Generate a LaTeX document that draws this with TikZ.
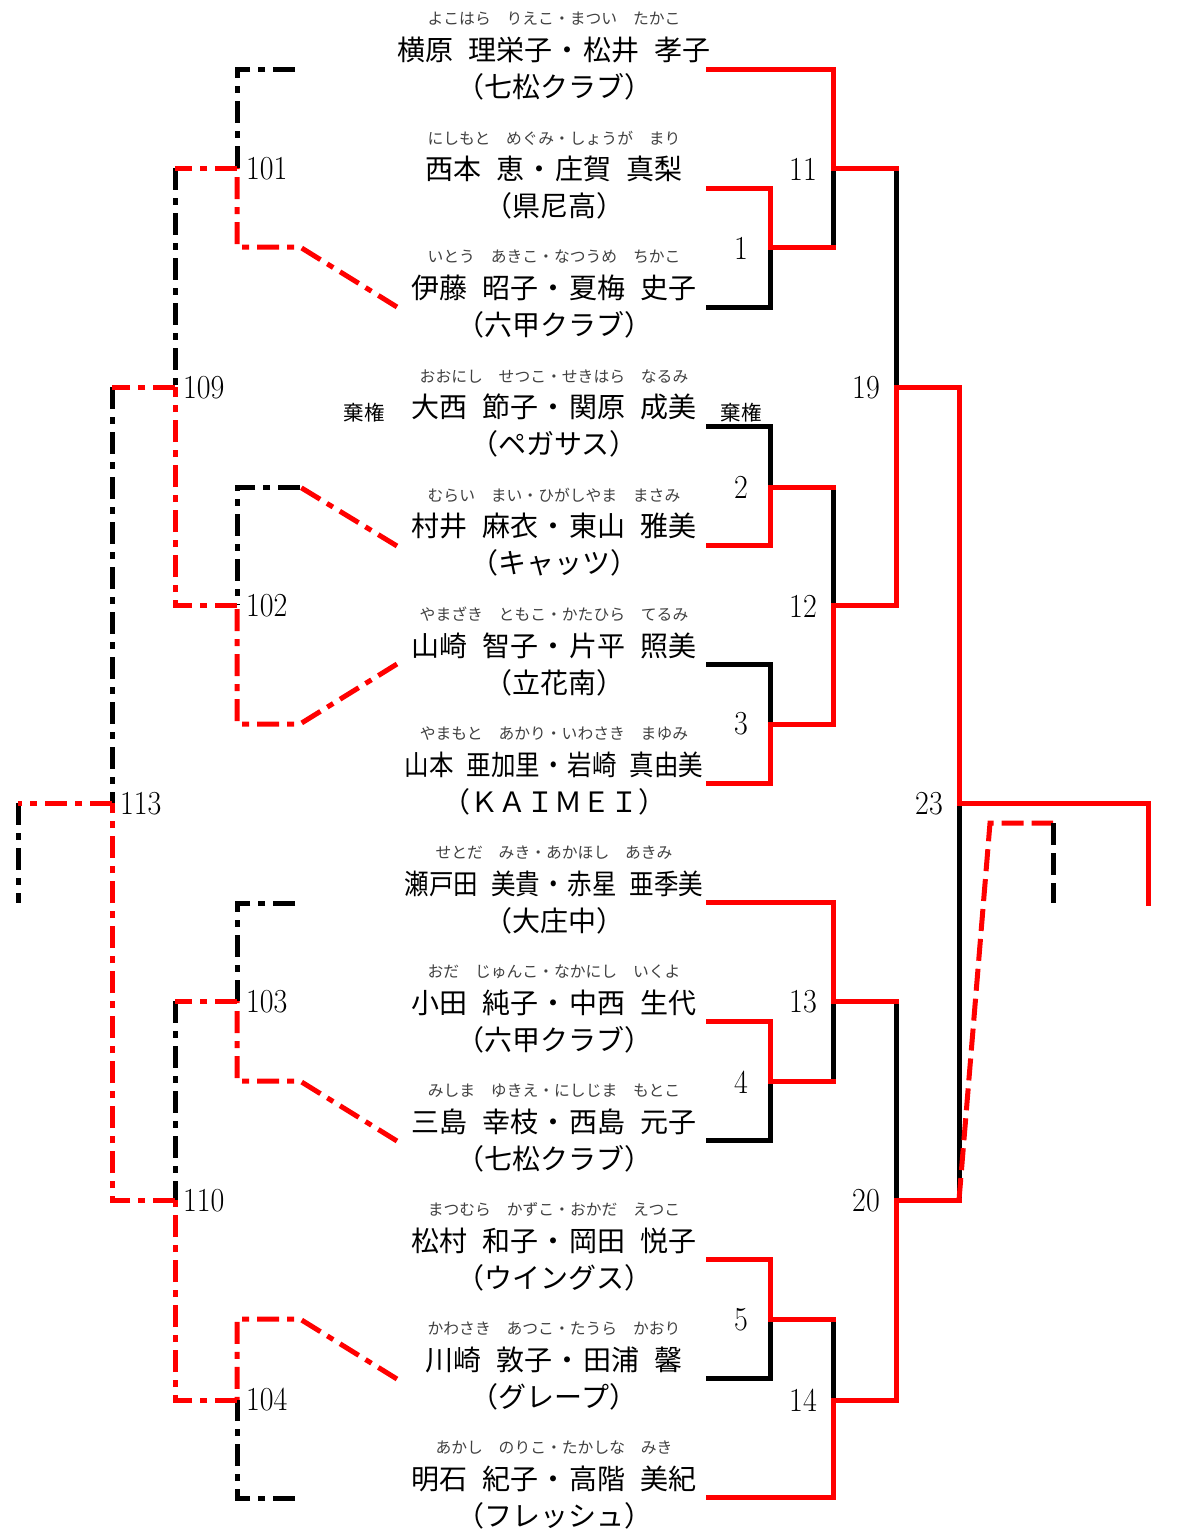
\documentclass[tikz,border=0pt]{standalone}
\usepackage{fontspec}
\usepackage{graphicx}
\newfontfamily\jp{Noto Sans CJK JP}
\newcommand\gp{\hspace{15pt}}
\newcommand\dt{\hspace{1.5pt}・\hspace{1.5pt}}
\tikzset{
  win/.style={draw=red, line width=5pt, line cap=rect},
  lose/.style={draw=black, line width=5pt, line cap=rect},
  wdd/.style={draw=red, line width=5pt, dash pattern=on 22pt off 8pt on 7pt off 8pt},
  ldd/.style={draw=black, line width=5pt, dash pattern=on 22pt off 8pt on 7pt off 8pt},
  wdash/.style={draw=red, line width=5pt, dash pattern=on 22pt off 8pt},
  ldash/.style={draw=black, line width=5pt, dash pattern=on 22pt off 8pt},
  furi/.style={font=\jp\fontsize{15.8}{15.8}\selectfont, text=black!75, inner sep=0pt},
  nm/.style={font=\jp\fontsize{28}{28}\selectfont, inner sep=0pt},
  num/.style={font=\fontsize{30}{30}\selectfont, inner sep=0pt},
  kiken/.style={font=\jp\fontsize{20.5}{20.5}\selectfont, inner sep=0pt},
}
\newcommand\player[4]{%
  \path (554,{50+119.08*(#1-1)}) node[nm] (n#1) {#3}
    ++(0,-31) node[furi] (f#1) {#2}
    ++(0,68) node[nm] (c#1) {#4};
  \coordinate (eR#1) at (708,{69+119.08*(#1-1)});
}
\newcommand\numlab[3]{\node[num] (#1) at (#2) {\scalebox{1}[1.12]{#3}};}
\newcommand\numlabw[3]{\node[num, anchor=west] (#1) at (#2) {\scalebox{1}[1.12]{#3}};}
\begin{document}
\begin{tikzpicture}[x=1pt, y=-1pt]
\useasboundingbox (0,0) rectangle (1176,1531);

% ---------- entries ----------
\player{1}{よこはら　りえこ・まつい　たかこ}{横原\gp 理栄子\dt 松井\gp 孝子}{（七松クラブ）}
\player{2}{にしもと　めぐみ・しょうが　まり}{西本\gp 恵\dt 庄賀\gp 真梨}{（県尼高）}
\player{3}{いとう　あきこ・なつうめ　ちかこ}{伊藤\gp 昭子\dt 夏梅\gp 史子}{（六甲クラブ）}
\player{4}{おおにし　せつこ・せきはら　なるみ}{大西\gp 節子\dt 関原\gp 成美}{（ペガサス）}
\player{5}{むらい　まい・ひがしやま　まさみ}{村井\gp 麻衣\dt 東山\gp 雅美}{（キャッツ）}
\player{6}{やまざき　ともこ・かたひら　てるみ}{山崎\gp 智子\dt 片平\gp 照美}{（立花南）}
\player{7}{やまもと　あかり・いわさき　まゆみ}{\scalebox{0.875}[1]{山本\gp 亜加里\dt 岩崎\gp 真由美}}{（ＫＡＩＭＥＩ）}
\player{8}{せとだ　みき・あかほし　あきみ}{\scalebox{0.875}[1]{瀬戸田\gp 美貴\dt 赤星\gp 亜季美}}{（大庄中）}
\player{9}{おだ　じゅんこ・なかにし　いくよ}{小田\gp 純子\dt 中西\gp 生代}{（六甲クラブ）}
\player{10}{みしま　ゆきえ・にしじま　もとこ}{三島\gp 幸枝\dt 西島\gp 元子}{（七松クラブ）}
\player{11}{まつむら　かずこ・おかだ　えつこ}{松村\gp 和子\dt 岡田\gp 悦子}{（ウイングス）}
\player{12}{かわさき　あつこ・たうら　かおり}{川崎\gp 敦子\dt 田浦\gp 馨}{（グレープ）}
\player{13}{あかし　のりこ・たかしな　みき}{明石\gp 紀子\dt 高階\gp 美紀}{（フレッシュ）}

\node[kiken] (kL) at (364,413) {棄権};
\node[kiken] (kR) at (741,413) {棄権};

% ---------- right bracket coordinates ----------
\coordinate (m1) at (770,247);
\coordinate (m2) at (770,487);
\coordinate (m3) at (770,724);
\coordinate (m4) at (770,1081);
\coordinate (m5) at (770,1319);
\coordinate (m11) at (833,168);
\coordinate (m12) at (833,605);
\coordinate (m13) at (833,1001);
\coordinate (m14) at (833,1400);
\coordinate (m19) at (896,387);
\coordinate (m20) at (896,1200);
\coordinate (m23) at (959,803);
\coordinate (fR) at (1148,903);
\coordinate (dA) at (990,823);
\coordinate (dB) at (1053,823);
\coordinate (dC) at (1053,903);

% ---------- right bracket lines ----------
\draw[win] (eR1) -| (m11);
\draw[win] (eR2) -| (m1);
\draw[lose] (eR3) -| (m1);
\draw[lose] (m1 -| m11) -- (m11);
\draw[win] (m1) -- (m1 -| m11);

\draw[lose] (eR4) -| (m2);
\draw[win] (eR5) -| (m2);
\draw[lose] (eR6) -| (m3);
\draw[win] (eR7) -| (m3);
\draw[lose] (m2 -| m12) -- (m12);
\draw[win] (m2) -- (m2 -| m12);
\draw[win] (m3) -| (m12);

\draw[lose] (m11 -| m19) -- (m19);
\draw[win] (m11) -- (m11 -| m19);
\draw[win] (m12) -| (m19);

\draw[win] (eR8) -| (m13);
\draw[win] (eR9) -| (m4);
\draw[lose] (eR10) -| (m4);
\draw[lose] (m4 -| m13) -- (m13);
\draw[win] (m4) -- (m4 -| m13);

\draw[win] (eR11) -| (m5);
\draw[lose] (eR12) -| (m5);
\draw[lose] (m5 -| m14) -- (m14);
\draw[win] (m5) -- (m5 -| m14);
\draw[win] (eR13) -| (m14);

\draw[lose] (m13 -| m20) -- (m20);
\draw[win] (m13) -- (m13 -| m20);
\draw[win] (m14) -| (m20);

\draw[win] (m19) -| (m23);
\draw[lose] (m20 -| m23) -- (m23);
\draw[win] (m20) -- (m20 -| m23);
\draw[win] (m23) -| (fR);

\draw[wdash] (m20 -| m23) -- (dA) -- (dB);
\draw[ldash] (dB) -- (dC);

% ---------- right labels ----------
\numlab{r1}{741,248}{1}
\numlab{r2}{741,487}{2}
\numlab{r3}{741,724}{3}
\numlab{r4}{741,1082}{4}
\numlab{r5}{741,1320}{5}
\numlab{r11}{803,169}{11}
\numlab{r12}{803,606}{12}
\numlab{r13}{803,1002}{13}
\numlab{r14}{803,1400}{14}
\numlab{r19}{866,388}{19}
\numlab{r20}{866,1201}{20}
\numlab{r23}{929,804}{23}

% ---------- left bracket coordinates ----------
\coordinate (L101) at (237,168);
\coordinate (L102) at (237,605);
\coordinate (L103) at (237,1001);
\coordinate (L104) at (237,1400);
\coordinate (L109) at (175,387);
\coordinate (L110) at (175,1200);
\coordinate (L113) at (112,803);
\coordinate (fL) at (18,903);
\coordinate (eL1) at (295,69);
\coordinate (eL8) at (295,903);
\coordinate (eL13) at (295,1498);
\coordinate (t3) at (397,307);   \coordinate (d3) at (300,247);
\coordinate (t5) at (397,546);   \coordinate (d5) at (300,487);
\coordinate (t6) at (397,664);   \coordinate (d6) at (300,724);
\coordinate (t10) at (397,1141); \coordinate (d10) at (300,1081);
\coordinate (t12) at (397,1379); \coordinate (d12) at (300,1319);

% ---------- left bracket lines ----------
\draw[ldd] (eL1) -| (L101);
\draw[wdd] (t3) -- (d3) -| (L101);
\draw[ldd] (L101 -| L109) -- (L109);
\draw[wdd] (L101) -- (L101 -| L109);

\draw[wdd] (t5) -- (d5);
\draw[ldd] (d5) -| (L102);
\draw[wdd] (t6) -- (d6) -| (L102);
\draw[wdd] (L102) -| (L109);

\draw[ldd] (L109 -| L113) -- (L113);
\draw[wdd] (L109) -- (L109 -| L113);

\draw[ldd] (eL8) -| (L103);
\draw[wdd] (t10) -- (d10) -| (L103);
\draw[ldd] (L103 -| L110) -- (L110);
\draw[wdd] (L103) -- (L103 -| L110);

\draw[wdd] (t12) -- (d12) -| (L104);
\draw[ldd] (eL13) -| (L104);
\draw[wdd] (L104) -| (L110);

\draw[wdd] (L110) -| (L113);
\draw[ldd] (L113 -| fL) -- (fL);
\draw[wdd] (L113) -- (L113 -| fL);

% ---------- left labels ----------
\numlabw{l101}{246,169}{101}
\numlabw{l102}{246,606}{102}
\numlabw{l103}{246,1002}{103}
\numlabw{l104}{246,1400}{104}
\numlabw{l109}{183,388}{109}
\numlabw{l110}{183,1201}{110}
\numlabw{l113}{120,804}{113}
\end{tikzpicture}
\end{document}
